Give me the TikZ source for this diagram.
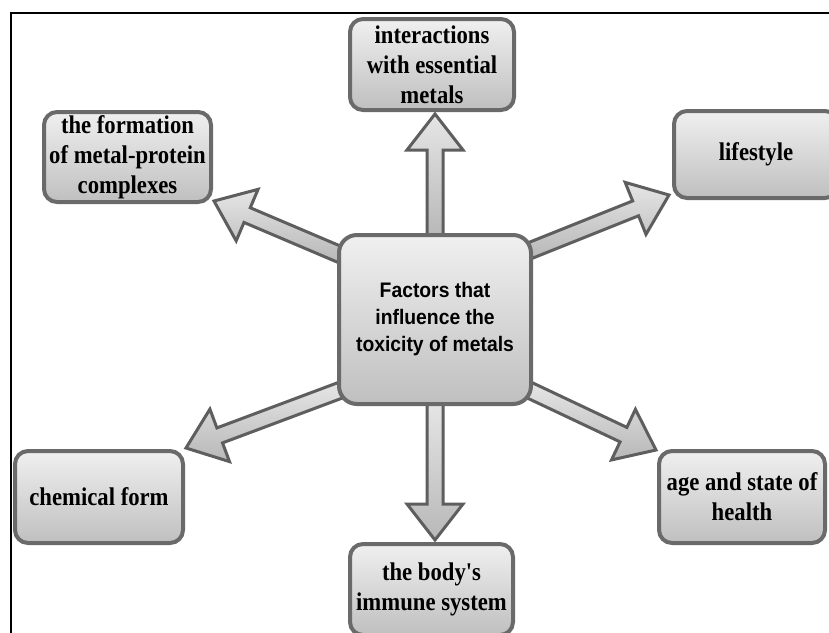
\documentclass[tikz,border=0pt]{standalone}
\usepackage{fontspec}
\setmainfont{Liberation Serif}
\setsansfont{Liberation Sans}
\newfontfamily\outerfont[FakeStretch=0.89]{Liberation Serif}
\newfontfamily\innerfont[FakeStretch=0.92]{Liberation Sans}
\usetikzlibrary{calc}
\pgfdeclarelayer{back}
\pgfdeclarelayer{bg}
\pgfsetlayers{back,bg,main}
\definecolor{boxedge}{HTML}{6A6A6A}
\definecolor{arredge}{HTML}{5E5E5E}
\tikzset{
  box/.style={rounded corners=13pt, draw=boxedge, line width=4pt,
    top color=white!94!black, bottom color=white!75!black,
    align=center, inner sep=0pt,
    font=\outerfont\bfseries\fontsize{25.5}{30}\selectfont},
  centerbox/.style={box, rounded corners=18pt,
    font=\innerfont\bfseries\fontsize{21}{27}\selectfont},
  blockarrow/.style={draw=arredge, line width=3pt,
    top color=white!90!black, bottom color=white!72!black},
  frameline/.style={line width=2pt, black}
}
\newcommand\blockarr[2]{%
  \coordinate (hb) at ($(#2)!36pt!(#1)$);
  \path[blockarrow] ($(#1)!8pt!90:(#2)$) -- ($(hb)!8pt!90:(#2)$) -- ($(hb)!28pt!90:(#2)$)
    -- (#2) -- ($(hb)!28pt!-90:(#2)$) -- ($(hb)!8pt!-90:(#2)$) -- ($(#1)!8pt!-90:(#2)$) -- cycle;}
\begin{document}
\begin{tikzpicture}[x=1pt,y=-1pt]
\useasboundingbox (0,0) rectangle (829,632);
\begin{pgfonlayer}{back}
  \fill[white] (0,0) rectangle (829,632);
\end{pgfonlayer}
\draw[frameline] (11,645) -- (11,13) -- (845,13);

\node[centerbox, minimum width=192pt, minimum height=169pt] (c) at (435,319.5)
  {Factors that\\influence the\\toxicity of metals};
\node[box, minimum width=164pt, minimum height=91pt] (top) at (432,64.5)
  {interactions\\with essential\\metals};
\node[box, minimum width=167pt, minimum height=90pt] (form) at (127.5,157)
  {the formation\\of metal-protein\\complexes};
\node[box, minimum width=164pt, minimum height=87pt] (life) at (756,154.5)
  {lifestyle};
\node[box, minimum width=166pt, minimum height=92pt] (age) at (742,497)
  {age and state of\\health};
\node[box, minimum width=163pt, minimum height=91pt] (body) at (431.5,589.5)
  {the body's\\immune system};
\node[box, minimum width=168pt, minimum height=92pt] (chem) at (99,497)
  {chemical form};

\begin{pgfonlayer}{bg}
  \coordinate (tUL) at ($(c.north west)+(4,22)$);
  \coordinate (tUR) at ($(c.north east)+(-4,18)$);
  \coordinate (tLL) at ($(c.south west)+(4,-16)$);
  \coordinate (tLR) at ($(c.south east)+(-4,-16)$);
  \coordinate (tT) at ($(c.north)+(0,4)$);
  \coordinate (tB) at ($(c.south)+(0,-4)$);
  \coordinate (pUL) at ($(form.south east)+(1,-3)$);
  \coordinate (pUR) at ($(life.south west)+(-3,-5)$);
  \coordinate (pLL) at ($(chem.north east)+(1,-1)$);
  \coordinate (pLR) at ($(age.north west)+(-1,1)$);
  \coordinate (pT) at ($(c.north |- top.south)+(0,2)$);
  \coordinate (pB) at ($(c.south |- body.north)+(0,-2)$);
  \blockarr{tUL}{pUL}
  \blockarr{tUR}{pUR}
  \blockarr{tLL}{pLL}
  \blockarr{tLR}{pLR}
  \blockarr{tT}{pT}
  \blockarr{tB}{pB}
\end{pgfonlayer}
\end{tikzpicture}
\end{document}
